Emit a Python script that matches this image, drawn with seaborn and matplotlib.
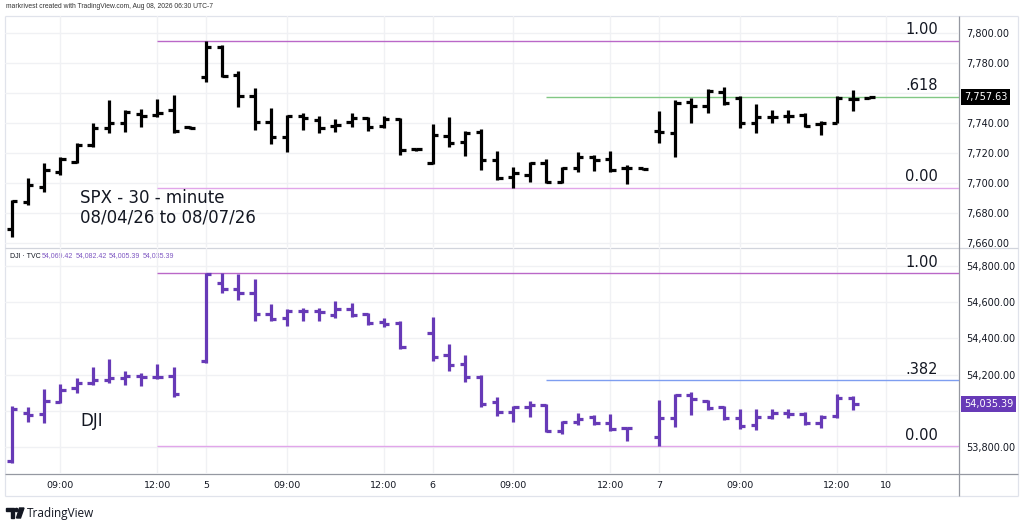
import matplotlib
matplotlib.use("Agg")
import matplotlib.pyplot as plt
import matplotlib.transforms as mtrans
from matplotlib.patches import Polygon, Circle
import seaborn as sns

# session grid (30-minute bars, Pacific time)
SLOTS = ["06:30", "07:00", "07:30", "08:00", "08:30", "09:00", "09:30",
         "10:00", "10:30", "11:00", "11:30", "12:00", "12:30", "13:00"]
DAYS = ["08/04", "08/05", "08/06", "08/07", "08/10"]

# SPX 30 minute bars (first two bars of 08/04 are scrolled off the chart)
spx_times = [f"{d} {t}" for d in DAYS[:4] for t in SLOTS][2:]
spx_open = [7669.3, 7687.8, 7697.8, 7707.8, 7714.4, 7725.6, 7736.7, 7740.4, 7746.0, 7745.6, 7748.9, 7737.3,
            7771.1, 7791.1, 7772.2, 7758.4, 7741.1, 7730.7, 7744.9, 7742.2, 7738.2, 7741.1, 7743.3, 7738.2, 7742.7, 7722.7,
            7713.8, 7731.6, 7727.8, 7734.4, 7715.6, 7704.4, 7705.6, 7713.8, 7701.1, 7710.4, 7717.8, 7716.0, 7710.0, 7710.0,
            7735.0, 7733.3, 7754.4, 7751.6, 7761.1, 7756.7, 7740.4, 7744.4, 7744.9, 7745.6, 7739.6, 7740.4, 7756.0, 7756.9]
spx_high = [7688.9, 7703.3, 7713.3, 7717.8, 7727.1, 7740.0, 7755.6, 7748.9, 7749.3, 7756.0, 7758.9, 7738.2,
            7795.0, 7792.2, 7774.9, 7763.8, 7750.0, 7745.6, 7746.7, 7744.9, 7742.7, 7746.7, 7744.4, 7744.9, 7743.3, 7723.3,
            7739.6, 7744.0, 7735.1, 7736.0, 7721.8, 7711.1, 7714.4, 7716.0, 7711.1, 7721.1, 7718.9, 7721.8, 7712.2, 7710.4,
            7748.4, 7755.6, 7756.7, 7762.7, 7764.0, 7758.4, 7752.9, 7748.9, 7748.9, 7747.1, 7741.8, 7758.2, 7762.2, 7757.8]
spx_low = [7664.4, 7685.6, 7694.4, 7705.6, 7713.8, 7724.4, 7733.3, 7734.4, 7737.8, 7744.0, 7733.8, 7736.0,
           7767.8, 7771.1, 7750.7, 7735.6, 7726.2, 7721.1, 7735.6, 7733.3, 7734.4, 7737.8, 7735.1, 7736.7, 7718.9, 7721.8,
           7712.9, 7724.4, 7718.2, 7708.9, 7702.2, 7697.1, 7701.1, 7700.4, 7700.4, 7707.8, 7708.2, 7707.8, 7699.6, 7708.9,
           7727.1, 7717.8, 7740.4, 7747.1, 7752.2, 7736.7, 7733.8, 7740.4, 7740.4, 7737.3, 7732.2, 7740.0, 7748.4, 7756.4]
spx_close = [7688.2, 7698.9, 7708.9, 7716.0, 7725.6, 7737.1, 7740.4, 7747.8, 7745.0, 7746.7, 7734.9, 7736.9,
             7791.1, 7771.6, 7758.4, 7741.1, 7730.7, 7744.9, 7743.3, 7736.7, 7738.9, 7743.3, 7737.8, 7742.7, 7722.2, 7722.7,
             7732.2, 7727.1, 7733.8, 7715.6, 7703.3, 7706.7, 7713.3, 7701.1, 7710.0, 7717.8, 7715.6, 7708.9, 7710.0, 7709.8,
             7734.4, 7753.8, 7751.6, 7761.8, 7753.3, 7740.4, 7744.0, 7744.4, 7744.9, 7738.2, 7740.4, 7757.1, 7756.0, 7757.63]

# DJI has no 13:00 bar
dji_times = [f"{d} {t}" for d in DAYS[:4] for t in SLOTS if t != "13:00"][2:]
dji_open = [53723.7, 53985.4, 53981.7, 54049.9, 54123.6, 54154.9, 54169.7, 54182.6, 54191.8, 54188.1, 54191.8,
            54274.8, 54704.2, 54671.0, 54652.6, 54534.6, 54510.6, 54553.0, 54551.2, 54529.1, 54560.4, 54532.8, 54492.2, 54486.7,
            54431.4, 54307.9, 54258.2, 54188.1, 54049.9, 53994.6, 54022.3, 54031.5, 53889.6, 53939.3, 53966.9, 53933.8, 53902.5,
            53852.7, 53957.7, 54086.7, 54055.4, 54022.3, 53961.4, 53920.9, 53966.9, 53989.1, 53981.7, 53930.1, 53970.7, 54069.42]
dji_high = [54025.9, 54022.3, 54118.1, 54145.7, 54182.6, 54243.4, 54284.0, 54221.3, 54210.2, 54258.2, 54243.4,
            54759.5, 54759.5, 54755.8, 54726.3, 54589.9, 54560.4, 54565.9, 54565.9, 54608.3, 54593.6, 54541.9, 54510.6, 54497.7,
            54516.2, 54368.7, 54307.9, 54197.3, 54077.6, 54025.9, 54055.4, 54037.0, 53944.8, 53989.1, 53976.2, 53981.7, 53911.7,
            54059.1, 54092.3, 54105.2, 54059.1, 54025.9, 54007.5, 54007.5, 54007.5, 54007.5, 53994.6, 53976.2, 54090.4, 54082.42]
dji_low = [53709.0, 53939.3, 53930.1, 54040.7, 54096.0, 54142.1, 54154.9, 54142.1, 54136.5, 54173.4, 54077.6,
           54265.5, 54652.6, 54612.0, 54497.7, 54497.7, 54468.3, 54497.7, 54497.7, 54510.6, 54519.9, 54473.8, 54464.6, 54339.3,
           54274.8, 54221.3, 54160.5, 54022.3, 53970.7, 53939.3, 53966.9, 53884.0, 53871.1, 53920.9, 53920.9, 53889.6, 53834.3,
           53804.8, 53911.7, 53976.2, 54003.8, 53948.5, 53896.9, 53893.2, 53952.2, 53957.7, 53920.9, 53906.1, 53957.7, 54005.39]
dji_close = [54007.5, 53976.2, 54055.4, 54114.4, 54154.9, 54169.7, 54182.6, 54191.8, 54188.1, 54188.1, 54092.3,
             54753.9, 54671.0, 54652.6, 54534.6, 54506.9, 54553.0, 54553.0, 54547.5, 54560.4, 54529.1, 54486.7, 54479.3, 54350.3,
             54295.0, 54252.6, 54184.4, 54037.0, 53994.6, 54018.6, 54031.5, 53889.6, 53939.3, 53952.2, 53933.8, 53896.9, 53902.5,
             53961.4, 54086.7, 54062.8, 54013.1, 53957.7, 53915.4, 53966.9, 53985.4, 53981.7, 53930.1, 53966.9, 54068.3, 54035.39]

# fibonacci retracements
spx_fib_hi, spx_fib_lo = 7795.0, 7697.1
dji_fib_hi, dji_fib_lo = 54759.5, 53804.8
fib_start = "08/04 12:00"
fib_mid_start = "08/06 10:00"

spx_ticks = [7660, 7680, 7700, 7720, 7740, 7760, 7780, 7800]
dji_ticks = [53800, 54000, 54200, 54400, 54600, 54800]
time_ticks = ["08/04 09:00", "08/04 12:00", "08/05 06:30", "08/05 09:00", "08/05 12:00", "08/06 06:30",
              "08/06 09:00", "08/06 12:00", "08/07 06:30", "08/07 09:00", "08/07 12:00", "08/10 06:30"]
time_labels = ["09:00", "12:00", "5", "09:00", "12:00", "6", "09:00", "12:00", "7", "09:00", "12:00", "10"]

grid = [f"{d} {t}" for d in DAYS for t in SLOTS]
pos = {t: i for i, t in enumerate(grid)}

sns.set_theme(style="white")
plt.rcParams["font.family"] = ["DejaVu Sans"]

W, H = 1023, 530
fig = plt.figure(figsize=(W / 100, H / 100), dpi=100)
fig.patch.set_facecolor("white")


def rect(x0, y0, x1, y1):
    return [x0 / W, 1 - y1 / H, (x1 - x0) / W, (y1 - y0) / H]


# overlay in pixel coordinates for frame, header and logo
ov = fig.add_axes([0, 0, 1, 1], zorder=0)
ov.set_xlim(0, W)
ov.set_ylim(H, 0)
ov.axis("off")
frame_c = "#e0e3eb"
axis_c = "#9598a1"
for (x0, y0, x1, y1, c) in [(5, 16, 1018, 16, frame_c), (5, 16, 5, 496, frame_c),
                            (1018, 16, 1018, 496, frame_c), (5, 496, 1018, 496, frame_c),
                            (5, 247.5, 1018, 247.5, "#d1d4dc"), (5, 474, 1018, 474, axis_c),
                            (959, 16, 959, 496, axis_c)]:
    ov.plot([x0, x1], [y0, y1], color=c, lw=0.9, solid_capstyle="butt")

ov.text(6, 6, "markrivest created with TradingView.com, Aug 08, 2026 06:30 UTC-7",
        fontsize=4.9, color="#333333", va="center", ha="left", family="Liberation Sans")
# TradingView logo
ov.add_patch(Polygon([[6, 508], [14, 508], [14, 518], [11, 518], [11, 511], [6, 511]],
                     closed=True, color="#131722"))
ov.add_patch(Circle((16.5, 510), 1.6, color="#131722"))
ov.add_patch(Polygon([[19.5, 508], [24, 508], [20.5, 518], [16.5, 518]], closed=True, color="#131722"))
ov.text(27, 513, "TradingView", fontsize=8.5, color="#131722", va="center", ha="left",
        fontweight="medium", family="Open Sans")

# DJI legend
ov.text(10, 256, "DJI · TVC", fontsize=5, color="#131722", ha="left", va="center",
        family="Liberation Sans")
for x0, v in zip([42, 75.5, 109, 142.5], [dji_open[-1], dji_high[-1], dji_low[-1], dji_close[-1]]):
    ov.text(x0, 256, f"{v:,.2f}", fontsize=5, color="#7e57c2", ha="left", va="center",
            family="Liberation Sans")

ax1 = fig.add_axes(rect(5, 16, 959, 247), zorder=1)
ax2 = fig.add_axes(rect(5, 248, 959, 474), zorder=1)


def draw_ohlc(ax, times, o, h, l, c, color):
    x = [pos[t] for t in times]
    ax.vlines(x, l, h, color=color, lw=2.3)
    ax.hlines(o, [v - 0.33 for v in x], x, color=color, lw=2.3)
    ax.hlines(c, x, [v + 0.33 for v in x], color=color, lw=2.3)


def fib(ax, start, level, label, color):
    ax.hlines(level, pos[start], 70, color=color, lw=1.0, zorder=1)
    ax.annotate(label, xy=(59.25, level), xytext=(0, 2.5), textcoords="offset points",
                ha="right", va="bottom", fontsize=10.5, color="#131722")


# the last-price tag hides the tick label under it
last_spx = spx_close[-1]
last_dji = dji_close[-1]
for ax, ylim, ticks, last in [(ax1, (7657.5, 7811.5), spx_ticks, last_spx),
                              (ax2, (53650.8, 54899.4), dji_ticks, last_dji)]:
    ax.set_facecolor("none")
    ax.set_xlim(1.576, 60.54)
    ax.set_ylim(*ylim)
    span = ylim[1] - ylim[0]
    ax.set_yticks(ticks)
    ax.set_yticklabels(["" if abs(v - last) < span * 0.06 else f"{v:,.2f}" for v in ticks])
    ax.yaxis.tick_right()
    ax.tick_params(axis="y", length=0, pad=5, labelsize=7, labelcolor="#131722")
    ax.set_xticks([pos[t] for t in time_ticks])
    ax.grid(True, color="#f0f1f4", lw=1.0)
    ax.set_axisbelow(True)
    for s in ax.spines.values():
        s.set_visible(False)

ax1.tick_params(axis="x", length=0, labelbottom=False)
ax2.set_xticklabels(time_labels)
ax2.tick_params(axis="x", length=0, pad=5, labelsize=6.8, labelcolor="#131722")

draw_ohlc(ax1, spx_times, spx_open, spx_high, spx_low, spx_close, "#000000")
draw_ohlc(ax2, dji_times, dji_open, dji_high, dji_low, dji_close, "#673ab7")

spx_rng = spx_fib_hi - spx_fib_lo
fib(ax1, fib_start, spx_fib_hi, "1.00", "#ba68c8")
fib(ax1, fib_mid_start, spx_fib_lo + 0.618 * spx_rng, ".618", "#81c784")
fib(ax1, fib_start, spx_fib_lo, "0.00", "#e1a6ea")
dji_rng = dji_fib_hi - dji_fib_lo
fib(ax2, fib_start, dji_fib_hi, "1.00", "#ba68c8")
fib(ax2, fib_mid_start, dji_fib_lo + 0.382 * dji_rng, ".382", "#7e9ef0")
fib(ax2, fib_start, dji_fib_lo, "0.00", "#e1a6ea")

ax1.text(0.079, 0.17, "SPX - 30 - minute\n08/04/26 to 08/07/26", transform=ax1.transAxes,
         fontsize=12, color="#131722", ha="left", va="center", linespacing=1.05)
ax2.text(0.079, 0.235, "DJI", transform=ax2.transAxes, fontsize=12, color="#131722",
         ha="left", va="center")

# last price labels
for ax, val, bg in [(ax1, last_spx, "#000000"), (ax2, last_dji, "#673ab7")]:
    tr = mtrans.blended_transform_factory(ax.transAxes, ax.transData)
    ax.text(1.005, val, f"{val:,.2f}", transform=tr, ha="left", va="center", fontsize=7,
            color="white", clip_on=False, zorder=5,
            bbox=dict(boxstyle="square,pad=0.3", fc=bg, ec="none"))

fig.savefig("out.png", dpi=100)
